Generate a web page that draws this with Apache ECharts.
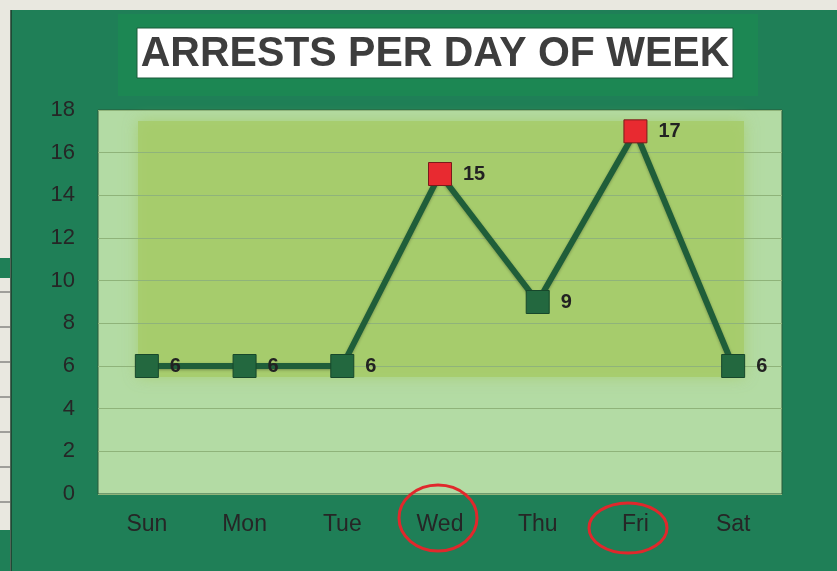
<!DOCTYPE html>
<html>
<head>
<meta charset="utf-8">
<script src="https://cdn.jsdelivr.net/npm/echarts@6/dist/echarts.min.js"></script>
<style>
  html, body { margin: 0; padding: 0; background: #e9e8e0; }
  #chart { width: 837px; height: 571px; }
</style>
</head>
<body>
<div id="chart"></div>
<script>
// data
var days = ['Sun', 'Mon', 'Tue', 'Wed', 'Thu', 'Fri', 'Sat']
var arrests = [6, 6, 6, 15, 9, 17, 6]
var flagged = ['Wed', 'Fri']
var yTicks = [0, 2, 4, 6, 8, 10, 12, 14, 16, 18]
var chartTitle = 'ARRESTS PER DAY OF WEEK'

var myChart = echarts.init(document.getElementById('chart'))

var points = arrests.map(function (v, i) {
  var hot = flagged.indexOf(days[i]) >= 0
  return {
    value: v,
    itemStyle: {
      color: hot ? '#e82a30' : '#23683f',
      borderColor: hot ? '#7a1a1a' : '#17472b'
    }
  }
})

var tableLines = [292, 327, 362, 397, 432, 467, 502].map(function (y) {
  return { type: 'line', z: -8, shape: { x1: 0, y1: y, x2: 10, y2: y }, style: { stroke: '#555', lineWidth: 1 } }
})

myChart.setOption({
  backgroundColor: '#e9e8e0',
  textStyle: { fontFamily: 'Liberation Sans, Arial, sans-serif' },
  graphic: [
    // green board
    { type: 'rect', z: -10, shape: { x: 11, y: 10, width: 826, height: 561 }, style: { fill: '#1f7f57' } },
    { type: 'rect', z: -9, shape: { x: 118, y: 14, width: 640, height: 82 }, style: { fill: '#1c8753' } },
    { type: 'line', z: -8, shape: { x1: 11, y1: 10, x2: 11, y2: 571 }, style: { stroke: '#1c3a2a', lineWidth: 1.5 } },
    // left table scraps
    { type: 'rect', z: -8, shape: { x: 0, y: 258, width: 10, height: 20 }, style: { fill: '#1f7f57' } },
    { type: 'rect', z: -8, shape: { x: 0, y: 530, width: 10, height: 41 }, style: { fill: '#1f7f57' } }
  ].concat(tableLines).concat([
    // title box
    { type: 'rect', z: 5, shape: { x: 137, y: 28, width: 596, height: 50 }, style: { fill: '#ffffff', stroke: '#1a5a3a', lineWidth: 1 } },
    {
      type: 'text', z: 10, x: 435, y: 54,
      scaleY: 1.04,
      style: {
        text: chartTitle,
        align: 'center',
        verticalAlign: 'middle',
        font: 'bold 41px "Liberation Sans", Arial, sans-serif',
        fill: '#3d3d3d',
        shadowColor: 'rgba(0,0,0,0.5)',
        shadowBlur: 2,
        shadowOffsetX: 2,
        shadowOffsetY: 2
      }
    },
    // inner glow of plot area
    {
      type: 'rect', z: 0, silent: true,
      shape: { x: 138, y: 121, width: 606, height: 256 },
      style: { fill: 'rgba(166,203,106,0.85)', shadowBlur: 14, shadowColor: 'rgba(166,203,106,0.9)' }
    },
    // red circles on axis labels
    { type: 'ellipse', z: 20, shape: { cx: 438, cy: 518, rx: 39, ry: 33 }, style: { fill: 'none', stroke: '#e0282c', lineWidth: 3 } },
    { type: 'ellipse', z: 20, shape: { cx: 628, cy: 528, rx: 39, ry: 25 }, style: { fill: 'none', stroke: '#e0282c', lineWidth: 3 } }
  ]),
  grid: {
    left: 98,
    right: 55,
    top: 110,
    bottom: 77,
    show: true,
    backgroundColor: '#b3dba4',
    borderColor: '#2a5a3a',
    borderWidth: 1,
    z: -1
  },
  xAxis: {
    type: 'category',
    data: days,
    boundaryGap: true,
    axisLine: { show: false },
    axisTick: { show: false },
    axisLabel: {
      margin: 19,
      fontSize: 23,
      color: '#262626',
      textShadowColor: 'rgba(255,255,255,0.35)',
      textShadowOffsetX: -1,
      textShadowOffsetY: -1
    }
  },
  yAxis: {
    type: 'value',
    min: yTicks[0],
    max: yTicks[yTicks.length - 1],
    interval: 2,
    axisLine: { show: false },
    axisTick: { show: false },
    axisLabel: {
      margin: 23,
      fontSize: 22,
      color: '#262626',
      textShadowColor: 'rgba(255,255,255,0.35)',
      textShadowOffsetX: -1,
      textShadowOffsetY: -1
    },
    splitLine: { lineStyle: { color: '#8fb37a', width: 1 } }
  },
  series: [
    {
      type: 'line',
      data: points,
      z: 5,
      symbol: 'rect',
      symbolSize: 23,
      lineStyle: {
        color: '#1f5e39',
        width: 6,
        shadowColor: 'rgba(0,0,0,0.3)',
        shadowBlur: 3,
        shadowOffsetY: 1
      },
      itemStyle: { borderWidth: 1 },
      label: {
        show: true,
        position: 'right',
        distance: 11,
        fontSize: 20,
        color: '#222',
        fontWeight: 'bold'
      },
      animation: false
    }
  ]
})
</script>
</body>
</html>
